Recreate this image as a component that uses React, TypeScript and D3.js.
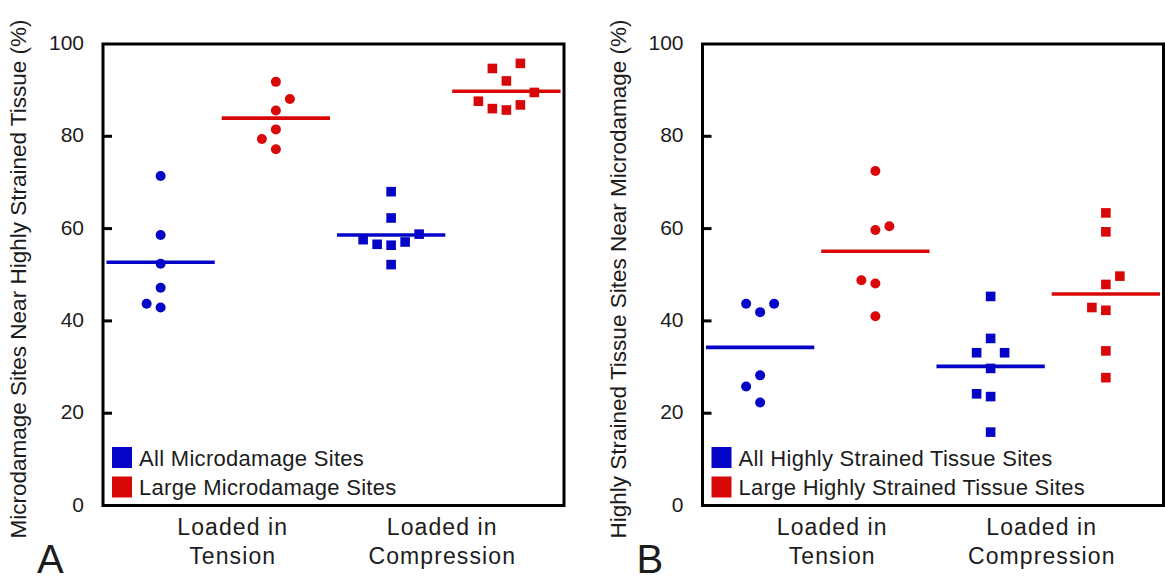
import React from 'react';
import * as d3 from 'd3';

// ---------- data ----------
const categoryLines: string[][] = [['Loaded in', 'Tension'], ['Loaded in', 'Compression']];
const groups = ['tensionAll', 'tensionLarge', 'compressionAll', 'compressionLarge'];
const yTicks = [0, 20, 40, 60, 80, 100];
const innerTicks = [20, 40, 60, 80];

// Panel A (Microdamage sites near highly strained tissue, %)
const aTensionAll = [71.4, 58.6, 52.4, 47.2, 43.7, 42.9];
const aTensionLarge = [91.8, 88.1, 85.6, 81.5, 79.4, 77.2];
const aCompressionAll = [68.0, 62.3, 58.8, 57.6, 57.1, 56.6, 56.4, 52.2];
const aCompressionLarge = [95.8, 94.7, 92.0, 89.5, 87.6, 86.8, 86.0, 85.7];

// Panel B (Highly strained tissue sites near microdamage, %)
const bTensionAll = [43.7, 43.7, 41.9, 28.2, 25.8, 22.3];
const bTensionLarge = [72.5, 60.5, 59.7, 48.8, 48.1, 41.0];
const bCompressionAll = [45.3, 36.2, 33.1, 33.1, 29.7, 24.2, 23.6, 15.9];
const bCompressionLarge = [63.4, 59.3, 49.7, 47.9, 42.9, 42.3, 33.5, 27.7];

const aTitle = 'Microdamage Sites Near Highly Strained Tissue (%)';
const bTitle = 'Highly Strained Tissue Sites Near Microdamage (%)';
const aLegend = ['All Microdamage Sites', 'Large Microdamage Sites'];
const bLegend = ['All Highly Strained Tissue Sites', 'Large Highly Strained Tissue Sites'];

// ---------- styles ----------
const BLUE = '#0505c8';
const RED = '#d80808';
const FONT = '"Liberation Sans", Arial, Helvetica, sans-serif';
const TEXT = '#1c1c1c';

const TOP = 44;
const BOTTOM = 505.5;
const PANEL_W = 461;

const yScale = d3.scaleLinear().domain([0, 100]).range([BOTTOM, TOP]);

// simple beeswarm: ascending order, slots of fixed width, collision within same slot
function swarm(values: number[], threshold = 18.5): number[] {
  const order = values.map((v, i) => ({ v, i })).sort((a, b) => a.v - b.v);
  const placed: { y: number; slot: number }[] = [];
  const slots = new Array(values.length).fill(0);
  for (const { v, i } of order) {
    const y = yScale(v);
    const free = (s: number) => placed.every(p => p.slot !== s || Math.abs(p.y - y) >= threshold);
    let chosen = 0;
    if (!free(0)) {
      for (let k = 1; k < 10; k++) {
        const lf = free(-k);
        const rf = free(k);
        if (lf && rf) {
          const lc = placed.filter(p => p.slot < 0).length;
          const rc = placed.filter(p => p.slot > 0).length;
          chosen = rc < lc ? k : -k;
          break;
        }
        if (lf) { chosen = -k; break; }
        if (rf) { chosen = k; break; }
      }
    }
    placed.push({ y, slot: chosen });
    slots[i] = chosen;
  }
  return slots;
}

type PanelProps = {
  left: number;
  series: number[][];
  title: string;
  legend: string[];
  letter: string;
};

function Panel({ left, series, title, legend, letter }: PanelProps) {
  const x = d3.scaleBand<string>().domain(groups).range([left, left + PANEL_W]).paddingInner(0).paddingOuter(0);
  const catX = d3.scalePoint<number>().domain([0, 1]).range([left + 4, left + PANEL_W + 4]).padding(0.6);
  const slotW = 14;
  const half = x.step() * 0.47;
  const colors = [BLUE, RED, BLUE, RED];
  const shapes = ['circle', 'circle', 'square', 'square'];
  const sq = 9.6;

  return (
    <g>
      {/* y axis title */}
      <text
        transform={`translate(${left - 77},${279}) rotate(-90)`}
        textAnchor="middle"
        fontFamily={FONT}
        fontSize={22.5}
        fill={TEXT}
      >
        {title}
      </text>
      {/* tick labels */}
      {yTicks.map(t => (
        <text key={t} x={left - 19} y={yScale(t) + 6} textAnchor="end" fontFamily={FONT} fontSize={21} fill={TEXT}>
          {t}
        </text>
      ))}
      {/* mean lines */}
      {series.map((vals, gi) => {
        const cx = (x(groups[gi]) as number) + x.bandwidth() / 2;
        const m = d3.mean(vals) as number;
        return (
          <line key={'m' + gi} x1={cx - half} x2={cx + half} y1={yScale(m)} y2={yScale(m)} stroke={colors[gi]} strokeWidth={3.6} />
        );
      })}
      {/* points */}
      {series.map((vals, gi) => {
        const cx = (x(groups[gi]) as number) + x.bandwidth() / 2;
        const slots = swarm(vals);
        return vals.map((v, i) => {
          const px = cx + slots[i] * slotW;
          const py = yScale(v);
          return shapes[gi] === 'circle' ? (
            <circle key={gi + '-' + i} cx={px} cy={py} r={5} fill={colors[gi]} />
          ) : (
            <rect key={gi + '-' + i} x={px - sq / 2} y={py - sq / 2} width={sq} height={sq} fill={colors[gi]} />
          );
        });
      })}
      {/* legend */}
      {legend.map((lab, i) => (
        <g key={lab}>
          <rect x={left + 9} y={447 + i * 29.5} width={20} height={21} fill={i === 0 ? BLUE : RED} />
          <text x={left + 36} y={466 + i * 29} fontFamily={FONT} fontSize={22} letterSpacing={0.3} fill={TEXT}>
            {lab}
          </text>
        </g>
      ))}
      {/* frame */}
      <rect x={left} y={TOP} width={PANEL_W} height={BOTTOM - TOP} fill="none" stroke="#000" strokeWidth={3} />
      {/* inner ticks */}
      {innerTicks.map(t => (
        <line key={'t' + t} x1={left} x2={left + 9} y1={yScale(t)} y2={yScale(t)} stroke="#000" strokeWidth={3} />
      ))}
      {/* category labels */}
      {categoryLines.map((lines, ci) => (
        <text key={'c' + ci} x={catX(ci)} textAnchor="middle" fontFamily={FONT} fontSize={23} letterSpacing={1.1} fill={TEXT}>
          <tspan x={catX(ci)} y={535}>{lines[0]}</tspan>
          <tspan x={catX(ci)} y={564}>{lines[1]}</tspan>
        </text>
      ))}
      {/* panel letter */}
      <text x={left - 66} y={573} fontFamily={FONT} fontSize={40} fill={TEXT}>
        {letter}
      </text>
    </g>
  );
}

export default function App() {
  return (
    <svg
      width={1165}
      height={586}
      style={{ position: 'absolute', left: 0, top: 0, background: '#fff', display: 'block' }}
    >
      <rect x={0} y={0} width={1165} height={586} fill="#fff" />
      <Panel
        left={103}
        series={[aTensionAll, aTensionLarge, aCompressionAll, aCompressionLarge]}
        title={aTitle}
        legend={aLegend}
        letter="A"
      />
      <Panel
        left={702.5}
        series={[bTensionAll, bTensionLarge, bCompressionAll, bCompressionLarge]}
        title={bTitle}
        legend={bLegend}
        letter="B"
      />
    </svg>
  );
}
